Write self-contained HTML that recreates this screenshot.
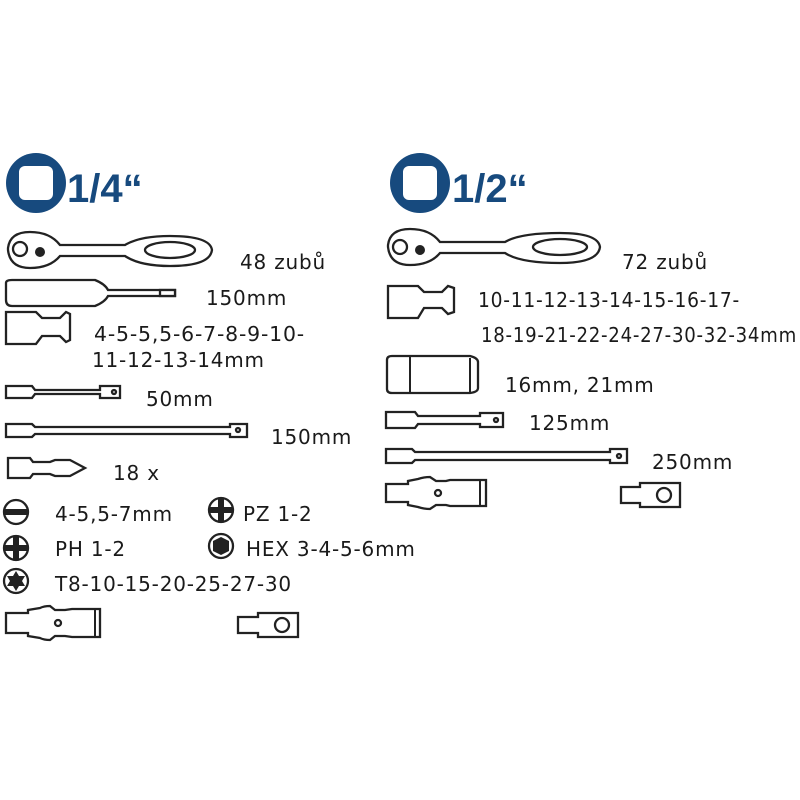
<!DOCTYPE html>
<html><head><meta charset="utf-8"><style>
html,body{margin:0;padding:0;background:#fff}
svg{display:block}
text{font-family:"DejaVu Sans","Liberation Sans",sans-serif;fill:#1a1a1a;font-size:20px;letter-spacing:0.8px}
.t{font-family:"Liberation Sans",sans-serif;font-weight:bold;font-size:40px;fill:#174a7e;letter-spacing:0}
.o{fill:#fff;stroke:#222;stroke-width:2.3}
.f{fill:#222}
</style></head><body>
<svg width="800" height="800" viewBox="0 0 800 800">
<circle cx="36" cy="183" r="30" fill="#174a7e"/>
<rect x="19" y="166" width="34" height="34" rx="6" fill="#fff"/>
<text class="t" x="67" y="202">1/4“</text>
<circle cx="420" cy="183" r="30" fill="#174a7e"/>
<rect x="403" y="166" width="34" height="34" rx="6" fill="#fff"/>
<text class="t" x="452" y="202">1/2“</text>

<g>
<path class="o" d="M8,248 Q10,232 30,232 Q50,232 60,245 L125,245 Q140,236 170,236 Q210,236 212,250 Q210,266 170,266 Q140,266 125,256 L60,256 Q50,268 30,268 Q10,268 8,250 Z"/>
<circle class="o" cx="20" cy="249" r="7"/>
<ellipse class="o" cx="170" cy="250" rx="25" ry="8"/>
<circle class="f" cx="40" cy="252" r="5"/>
<path class="o" d="M6,283 Q6,280 12,280 L95,280 Q105,284 108,290 L175,290 L175,296 L108,296 Q105,302 95,306 L12,306 Q6,306 6,300 Z"/>
<rect class="o" x="160" y="290" width="15" height="6"/>
<path class="o" d="M6,312 L36,312 L42,318 L60,318 L66,312 L70,314 L70,340 L66,342 L60,336 L42,336 L36,344 L6,344 Z"/>
<path class="o" d="M6,386 L32,386 L35,390 L100,390 L100,386 L120,386 L120,398 L100,398 L100,394 L35,394 L32,398 L6,398 Z"/>
<circle class="o" cx="114" cy="392" r="2"/>
<path class="o" d="M6,424 L32,424 L35,427 L230,427 L230,424 L247,424 L247,437 L230,437 L230,434 L35,434 L32,437 L6,437 Z"/>
<circle class="o" cx="238" cy="430" r="2"/>
<path class="o" d="M8,458 L30,458 L33,462 L50,462 L55,460 L70,460 L85,468 L70,476 L55,476 L50,474 L33,474 L30,478 L8,478 Z"/>
<circle class="o" cx="16" cy="512" r="12"/><rect class="f" x="5" y="509" width="22" height="6"/>
<circle class="o" cx="16" cy="548" r="12"/><rect class="f" x="5" y="545" width="22" height="6"/><rect class="f" x="13" y="537" width="6" height="22"/>
<circle class="o" cx="16" cy="581" r="12"/><polygon class="f" points="16,571 19,576 25,576 22,581 25,586 19,586 16,591 13,586 7,586 10,581 7,576 13,576"/>
<circle class="o" cx="221" cy="510" r="12"/><rect class="f" x="210" y="507" width="22" height="6"/><rect class="f" x="218" y="499" width="6" height="22"/>
<circle class="o" cx="221" cy="546" r="12"/><polygon class="f" points="221,537 229,541 229,551 221,555 213,551 213,541"/>
<path class="o" d="M6,613 L28,613 L28,610 L40,608 Q44,606 50,606 L55,610 L65,610 L72,609 L100,609 L100,637 L72,637 L65,636 L55,636 L50,640 Q44,640 40,638 L28,636 L28,633 L6,633 Z"/>
<circle class="o" cx="58" cy="623" r="3"/><line x1="95" y1="609" x2="95" y2="637" stroke="#222" stroke-width="2"/>
<path class="o" d="M238,617 L258,617 L258,613 L298,613 L298,637 L258,637 L258,633 L238,633 Z"/>
<circle class="o" cx="282" cy="625" r="7"/>
</g>
<text x="240" y="269">48 zubů</text>
<text x="206" y="305">150mm</text>
<text x="94" y="341" textLength="211" lengthAdjust="spacingAndGlyphs">4-5-5,5-6-7-8-9-10-</text>
<text x="92" y="367">11-12-13-14mm</text>
<text x="146" y="406">50mm</text>
<text x="271" y="444">150mm</text>
<text x="113" y="480">18 x</text>
<text x="55" y="521">4-5,5-7mm</text>
<text x="243" y="521">PZ 1-2</text>
<text x="55" y="556">PH 1-2</text>
<text x="246" y="556">HEX 3-4-5-6mm</text>
<text x="55" y="591">T8-10-15-20-25-27-30</text>

<g>
<path class="o" d="M388,245 Q390,229 410,229 Q430,229 440,242 L505,242 Q520,233 560,233 Q598,233 600,247 Q598,263 560,263 Q520,263 505,253 L440,253 Q430,265 410,265 Q390,265 388,247 Z"/>
<circle class="o" cx="400" cy="247" r="7"/>
<ellipse class="o" cx="560" cy="247" rx="27" ry="8"/>
<circle class="f" cx="420" cy="250" r="5"/>
<path class="o" d="M388,286 L418,286 L424,292 L442,292 L448,286 L454,288 L454,312 L448,314 L442,308 L424,308 L418,318 L388,318 Z"/>
<path class="o" d="M387,360 Q387,356 392,356 L470,356 Q478,358 478,362 L478,388 Q478,392 470,393 L392,393 Q387,393 387,389 Z"/>
<line x1="410" y1="356" x2="410" y2="393" stroke="#222" stroke-width="2"/><line x1="470" y1="358" x2="470" y2="392" stroke="#222" stroke-width="2"/>
<path class="o" d="M386,412 L415,412 L418,416 L480,416 L480,413 L503,413 L503,427 L480,427 L480,424 L418,424 L415,428 L386,428 Z"/>
<circle class="o" cx="496" cy="420" r="2"/>
<path class="o" d="M386,449 L412,449 L415,452 L610,452 L610,449 L627,449 L627,463 L610,463 L610,460 L415,460 L412,463 L386,463 Z"/>
<circle class="o" cx="619" cy="456" r="2"/>
<path class="o" d="M386,484 L408,484 L408,481 L418,479 Q424,477 430,477 L436,481 L446,481 L450,480 L486,480 L486,506 L450,506 L446,505 L436,505 L430,509 Q424,509 418,507 L408,505 L408,502 L386,502 Z"/>
<circle class="o" cx="438" cy="493" r="3"/><line x1="480" y1="480" x2="480" y2="506" stroke="#222" stroke-width="2"/>
<path class="o" d="M621,487 L640,487 L640,483 L680,483 L680,507 L640,507 L640,503 L621,503 Z"/>
<circle class="o" cx="664" cy="495" r="7"/>
</g>
<text x="622" y="269">72 zubů</text>
<text x="478" y="307" textLength="262" lengthAdjust="spacingAndGlyphs">10-11-12-13-14-15-16-17-</text>
<text x="481" y="342" textLength="316" lengthAdjust="spacingAndGlyphs">18-19-21-22-24-27-30-32-34mm</text>
<text x="505" y="392">16mm, 21mm</text>
<text x="529" y="430">125mm</text>
<text x="652" y="469">250mm</text>
</svg>
</body></html>
